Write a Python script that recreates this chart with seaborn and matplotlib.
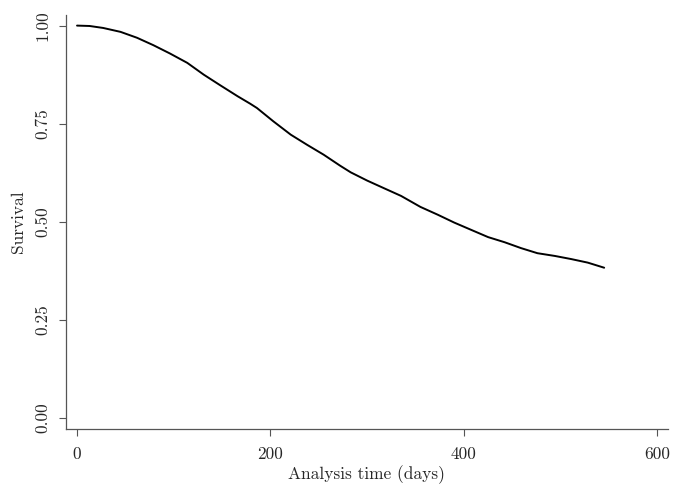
import numpy as np
import pandas as pd
import matplotlib
matplotlib.use("Agg")
import matplotlib.pyplot as plt
import seaborn as sns

# survival curve
days = [0, 13, 27, 45, 62, 79, 96, 114, 131, 148, 166, 179, 186, 203, 221,
        238, 255, 272, 283, 300, 317, 335, 355, 373, 390, 407, 425, 442,
        459, 476, 494, 511, 528, 545]
surv = [1.0, 0.999, 0.994, 0.984, 0.969, 0.950, 0.929, 0.905, 0.875, 0.848,
        0.820, 0.801, 0.790, 0.756, 0.722, 0.696, 0.671, 0.643, 0.626, 0.605,
        0.586, 0.566, 0.538, 0.518, 0.498, 0.480, 0.461, 0.448, 0.433, 0.420,
        0.413, 0.405, 0.396, 0.383]

x_ticks = [0, 200, 400, 600]
y_ticks = [0.0, 0.25, 0.5, 0.75, 1.0]
y_tick_labels = ["0.00", "0.25", "0.50", "0.75", "1.00"]

df = pd.DataFrame({"days": days, "surv": surv})

sns.set_style("ticks")
plt.rcParams["font.family"] = ["cmr10", "DejaVu Serif"]
plt.rcParams["axes.formatter.use_mathtext"] = True

fig = plt.figure(figsize=(6.75, 4.91), dpi=100)
ax = fig.add_axes([66 / 675, 1 - 429 / 491, (668 - 66) / 675, (429 - 15) / 491])

sns.lineplot(data=df, x="days", y="surv", color="black", linewidth=1.4, ax=ax)

ax.set_xlim(-11.4, 611)
ax.set_ylim(-0.028, 1.027)
ax.set_xticks(x_ticks)
ax.set_xticklabels([str(v) for v in x_ticks])
ax.set_yticks(y_ticks)
ax.set_yticklabels(y_tick_labels, rotation=90, va="center")
ax.set_xlabel("Analysis time (days)", fontsize=12.5, labelpad=2)
ax.set_ylabel("Survival", fontsize=12.5, labelpad=7)
ax.tick_params(axis="both", labelsize=12.5, length=5, width=0.8, color="#555555")
ax.tick_params(axis="x", pad=8)
ax.tick_params(axis="y", pad=6)

sns.despine(ax=ax)
for side in ["left", "bottom"]:
    ax.spines[side].set_color("#555555")
    ax.spines[side].set_linewidth(0.9)

fig.savefig("out.png", dpi=100)
